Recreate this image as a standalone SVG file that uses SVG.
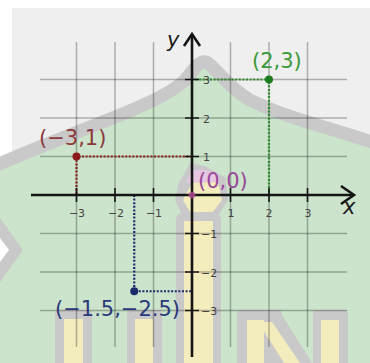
<svg xmlns="http://www.w3.org/2000/svg" width="370" height="363" viewBox="0 0 370 363">
<style>
.grid{stroke:#000;stroke-opacity:0.28;stroke-width:1.5;fill:none}
.axis{stroke:#151515;stroke-width:2.6;fill:none}
.tick{stroke:#151515;stroke-width:1.6}
.tl{font-family:"DejaVu Sans",sans-serif;font-size:11px;fill:#444;text-anchor:middle}
.tly{font-family:"DejaVu Sans",sans-serif;font-size:11px;fill:#444;text-anchor:start}
.pl{font-family:"DejaVu Sans",sans-serif;font-size:21px}
.al{font-family:"DejaVu Sans",sans-serif;font-size:21px;font-style:italic;fill:#1a1a1a}
.dot{stroke-width:2.2;stroke-dasharray:2 1.6;fill:none}
.wg{fill:#c9c9c9}
.wy{fill:#f3ecbc}
</style>
<rect width="370" height="363" fill="#ffffff"/>
<rect x="12" y="8" width="358" height="355" fill="#efefef"/>
<g id="watermark">
<path d="M -10,168 C 80,128 160,105 185,80 C 195,68 200,60 206,62 C 215,66 225,85 250,100 C 290,120 340,130 380,145 L 380,370 L -10,370 Z" fill="#cbe4cb"/>
<path d="M -10,168 C 80,128 160,105 185,80 C 195,68 200,60 206,62 C 215,66 225,85 250,100 C 290,120 340,130 380,145" fill="none" stroke="#c9c9c9" stroke-width="13"/>
<polygon class="wg" points="0,218 23,250 0,282"/>
<polygon points="0,238 9,250 0,262" fill="#ffffff"/>
<rect class="wg" x="55" y="310" width="37" height="60" rx="4"/>
<rect class="wy" x="64" y="319" width="19" height="50"/>
<rect class="wg" x="127" y="310" width="35" height="60" rx="4"/>
<rect class="wy" x="135" y="319" width="18" height="50"/>
<rect class="wg" x="176" y="212" width="45" height="160" rx="8"/>
<rect class="wy" x="184" y="221" width="29" height="150"/>
<polygon class="wg" points="190,163 178,185 175,200 184,219 216,219 228,200 226,178 205,166"/>
<polygon points="192,170 186,183 220,182 218,174 205,170" fill="#e6c6e0"/>
<polygon class="wy" points="183,200 192,183 218,182 222,200 213,212 190,212"/>
<rect class="wg" x="237" y="310" width="45" height="60" rx="4"/>
<polygon class="wg" points="250,312 280,312 312,363 282,363"/>
<rect class="wy" x="247" y="320" width="17" height="50"/>
<polygon class="wy" points="258,322 272,322 300,363 284,363"/>
<rect class="wg" x="313" y="310" width="35" height="60" rx="4"/>
<rect class="wy" x="321" y="320" width="18" height="50"/>
</g>
<g id="grid">
<path class="grid" d="M76.5,42V347M115,42V347M153.5,42V347M230.5,42V347M269,42V347M307.5,42V347"/>
<path class="grid" d="M40,79.5H347M40,118H347M40,156.5H347M40,233.5H347M40,272H347M40,310.5H347"/>
</g>
<g id="connectors">
<path class="dot" stroke="#2e8b2e" d="M192,79.5H269V195"/>
<path class="dot" stroke="#8b2020" d="M192,156.5H76.5V195"/>
<path class="dot" stroke="#1a2a6a" d="M134.25,195V291.25H192"/>
</g>
<g id="axes">
<path class="axis" d="M31,195H354"/>
<path class="axis" d="M341,186L354,195L341,204"/>
<path class="axis" d="M192,357V34"/>
<path class="axis" d="M184,46L192,34L200,46"/>
<path class="tick" d="M76.5,188V202M115,188V202M153.5,188V202M230.5,188V202M269,188V202M307.5,188V202"/>
<path class="tick" d="M185,79.5H199M185,118H199M185,156.5H199M185,233.5H199M185,272H199M185,310.5H199"/>
<text class="tl" x="77" y="217">−3</text>
<text class="tl" x="116" y="217">−2</text>
<text class="tl" x="154" y="217">−1</text>
<text class="tl" x="231" y="217">1</text>
<text class="tl" x="269" y="217">2</text>
<text class="tl" x="308" y="217">3</text>
<text class="tly" x="203" y="84">3</text>
<text class="tly" x="203" y="122.5">2</text>
<text class="tly" x="203" y="161">1</text>
<text class="tly" x="201" y="238">−1</text>
<text class="tly" x="201" y="276.5">−2</text>
<text class="tly" x="201" y="315">−3</text>
<text class="al" x="167" y="47">y</text>
<text class="al" x="343" y="214">x</text>
</g>
<g id="p23">
<circle cx="269" cy="79.5" r="4" fill="#1e7a1e"/>
<text class="pl" x="252" y="68" fill="#3a9a3a">(2,3)</text>
</g>
<g id="pm31">
<circle cx="76.5" cy="156.5" r="4" fill="#8b1a1a"/>
<text class="pl" x="39" y="145" fill="#8b3a3a">(−3,1)</text>
</g>
<g id="pm15m25">
<circle cx="134.25" cy="291.25" r="4" fill="#1a2a6a"/>
<text class="pl" x="55" y="316" fill="#2a3a7a">(−1.5,−2.5)</text>
</g>
<g id="p00">
<circle cx="192" cy="195" r="3.5" fill="#c050a0" fill-opacity="0.7"/>
<text class="pl" x="198" y="188" fill="#9a4a9a">(0,0)</text>
</g>
</svg>
